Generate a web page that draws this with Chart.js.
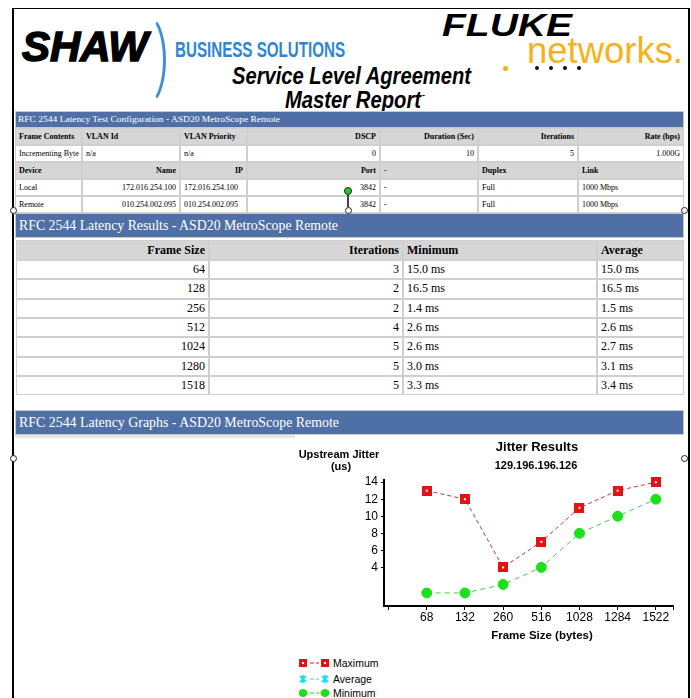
<!DOCTYPE html>
<html><head><meta charset="utf-8">
<script src="https://cdn.jsdelivr.net/npm/chart.js@4.4.1/dist/chart.umd.min.js"></script>
<style>
html,body{margin:0;padding:0;background:#fff;width:691px;height:698px;overflow:hidden;position:relative}
.a{position:absolute;white-space:nowrap}
.cell{position:absolute;box-sizing:border-box;border:1px solid #cfcfcf;white-space:nowrap;overflow:hidden;padding:0 3px;font-family:"Liberation Serif",serif;color:#000}
.h{position:absolute;width:7px;height:7px;border-radius:50%;border:1px solid #222;background:#fff;box-sizing:border-box}
#chartBox{position:absolute;left:295px;top:470px;width:396px;height:160px}
</style></head>
<body>
<div id="chartBox"><canvas id="c" width="396" height="160"></canvas></div>
<script>
// ---- chart data ----
const frameSizes = ['68','132','260','516','1028','1284','1522'];
const maxJitter = [13,12,4,7,11,13,14];
const avgJitter = [];
const minJitter = [1,1,2,4,8,10,12];
const yTickValues = [4,6,8,10,12,14];

// ---- table data ----
const resFrame = ['64','128','256','512','1024','1280','1518'];
const resIter = ['3','2','2','4','5','5','5'];
const resMin = ['15.0 ms','16.5 ms','1.4 ms','2.6 ms','2.6 ms','3.0 ms','3.3 ms'];
const resAvg = ['15.0 ms','16.5 ms','1.5 ms','2.6 ms','2.7 ms','3.1 ms','3.4 ms'];

function box(l,t,w,h,css){const d=document.createElement('div');d.style.position='absolute';d.style.left=l+'px';d.style.top=t+'px';d.style.width=w+'px';d.style.height=h+'px';Object.assign(d.style,css||{});document.body.appendChild(d);return d;}

function T(s,o){
  const d=document.createElement('div');d.className='a';
  const L=Math.round(o.size*(o.lh||1.3));
  const fam=o.family||'Liberation Sans';
  d.style.font=(o.style||'normal')+' '+(o.weight||'normal')+' '+o.size+'px "'+fam+'"';
  d.style.lineHeight=L+'px';d.style.color=o.color||'#000';
  d.style.top=(o.by-L/2-0.34*o.size)+'px';
  const sp=document.createElement('span');sp.textContent=s;sp.style.display='inline-block';
  if(o.stroke){sp.style.webkitTextStroke=o.stroke;}
  d.appendChild(sp);
  if(o.align==='center'){d.style.left=(o.x-300)+'px';d.style.width='600px';d.style.textAlign='center';sp.style.transformOrigin='50% 50%';}
  else{d.style.left=o.x+'px';sp.style.transformOrigin='0 50%';}
  document.body.appendChild(d);
  if(o.w){const w=sp.getBoundingClientRect().width;sp.style.transform='scaleX('+(o.w/w)+')';}
  return d;
}

// ---- page frame ----
box(12,8,677,1,{background:'#000'});
box(12,8,1.5,690,{background:'#000'});
box(688,8,1.5,690,{background:'#000'});

// ---- logos ----
T('SHAW',{x:22,by:61,size:42,weight:'bold',style:'italic',w:126,stroke:'1.5px #000'});
box(126,13,40,94,{boxSizing:'border-box',border:'3px solid transparent',borderRightColor:'#3d8fd8',borderRadius:'50%'});
T('BUSINESS SOLUTIONS',{x:175,by:57,size:22,weight:'bold',color:'#2f86d6',w:170});
T('FLUKE',{x:442,by:36,size:32,weight:'bold',style:'italic',w:130,lh:0.75});
T('networks.',{x:527,by:64,size:37,color:'#f5b21a',w:156,lh:0.75});
box(503,66,4.5,4.5,{borderRadius:'50%',background:'#f5b21a'});
[535,549,563,577].forEach(x=>box(x,66,4,4,{borderRadius:'50%',background:'#111'}));
T('Service Level Agreement',{x:232,by:84,size:23,weight:'bold',style:'italic',w:239});
T('Master Report',{x:285,by:108,size:23,weight:'bold',style:'italic',w:136});
T('-',{x:422,by:98,size:9,weight:'bold'});

// ---- grid helper ----
function grid(cols,rowsY,rows,font){
  rows.forEach((r,ri)=>{
    r.forEach((c,ci)=>{
      const w=cols[ci+1]-cols[ci];
      const [top,h]=rowsY[ri];
      const d=document.createElement('div');d.className='cell';
      d.style.left=cols[ci]+'px';d.style.top=top+'px';d.style.width=w+'px';d.style.height=h+'px';
      d.style.lineHeight=(h-2)+'px';d.style.fontSize=font+'px';
      d.style.textAlign=c[1]==='r'?'right':'left';
      if(c[2]){d.style.background='#d6d6d6';}
      if(c[3]){d.style.fontWeight='bold';}
      d.textContent=c[0];
      document.body.appendChild(d);
    });
  });
}

// ---- config table ----
box(15,111,669,17,{background:'#4f70a6',border:'1px solid #c8c8c8',boxSizing:'border-box'});
T('RFC 2544 Latency Test Configuration - ASD20 MetroScope Remote',{x:18,by:122,size:9,family:'Liberation Serif',color:'#fff',w:262});
const cfgCols=[15,82,180,247,380,478,578,684];
const cfgRows=[[128,17],[145,17],[162,17],[179,17],[196,17]];
grid(cfgCols,cfgRows,[
 [['Frame Contents','l',1,1],['VLAN Id','l',1,1],['VLAN Priority','l',1,1],['DSCP','r',1,1],['Duration (Sec)','r',1,1],['Iterations','r',1,1],['Rate (bps)','r',1,1]],
 [['Incrementing Byte','l'],['n/a','l'],['n/a','l'],['0','r'],['10','r'],['5','r'],['1.000G','r']],
 [['Device','l',1,1],['Name','r',1,1],['IP','r',1,1],['Port','r',1,1],['-','l',1,0],['Duplex','l',1,1],['Link','l',1,1]],
 [['Local','l'],['172.016.254.100','r'],['172.016.254.100','l'],['3842','r'],['-','l'],['Full','l'],['1000 Mbps','l']],
 [['Remote','l'],['010.254.002.095','r'],['010.254.002.095','l'],['3842','r'],['-','l'],['Full','l'],['1000 Mbps','l']]
],8);

// ---- results table ----
box(15,213,669,25,{background:'#4f70a6',border:'1px solid #c8c8c8',boxSizing:'border-box'});
T('RFC 2544 Latency Results - ASD20 MetroScope Remote',{x:19,by:230,size:15,family:'Liberation Serif',color:'#fff',w:319});
const resCols=[16,209,403,597,684];
const resRowsY=[[240,20]];
const resRows=[[['Frame Size','r',1,1],['Iterations','r',1,1],['Minimum','l',1,1],['Average','l',1,1]]];
resFrame.forEach((f,i)=>{
  resRowsY.push([260+i*19.33,19.33]);
  resRows.push([[f,'r'],[resIter[i],'r'],[resMin[i],'l'],[resAvg[i],'l']]);
});
grid(resCols,resRowsY,resRows,12);

// ---- graphs header ----
box(15,410,669,25,{background:'#4f70a6',border:'1px solid #c8c8c8',boxSizing:'border-box'});
T('RFC 2544 Latency Graphs - ASD20 MetroScope Remote',{x:19,by:427,size:15,family:'Liberation Serif',color:'#fff',w:320});
box(15,435,280,3,{background:'#e6e6e6'});

// ---- chart texts ----
T('Jitter Results',{x:537,by:450.5,size:13,weight:'bold',align:'center'});
T('129.196.196.126',{x:536,by:469,size:11,weight:'bold',align:'center'});
T('Upstream Jitter',{x:339,by:458,size:11,weight:'bold',align:'center'});
T('(us)',{x:341,by:470,size:11,weight:'bold',align:'center'});
T('Frame Size (bytes)',{x:542,by:639,size:11.5,weight:'bold',align:'center'});

// ---- selection handles ----
box(347.3,195,1.5,12,{background:'#444'});
[[13,210],[348,210],[684,210],[13,458],[684,458]].forEach(p=>{const d=document.createElement('div');d.className='h';d.style.left=(p[0]-3.5)+'px';d.style.top=(p[1]-3.5)+'px';document.body.appendChild(d);});
box(344,187,8,8,{borderRadius:'50%',background:'#22cc22',border:'1px solid #222',boxSizing:'border-box'});

// ---- markers ----
function redSquare(){const c=document.createElement('canvas');c.width=10;c.height=10;const g=c.getContext('2d');g.fillStyle='#e01414';g.fillRect(0,0,10,10);g.fillStyle='#fff';g.fillRect(4,4,2,2);return c;}
function drawIcon(kind){
  const c=document.createElement('canvas');c.width=32;c.height=12;const g=c.getContext('2d');
  const col={max:'#e01414',avg:'#22ddee',min:'#1de01d'}[kind];
  g.strokeStyle=col;g.lineWidth=1.2;g.beginPath();g.moveTo(11,6);g.lineTo(15,6);g.moveTo(17,6);g.lineTo(20,6);g.stroke();
  [0,22].forEach(x0=>{
    if(kind==='max'){g.fillStyle=col;g.fillRect(x0,2,8,8);g.fillStyle='#fff';g.fillRect(x0+3,5,2,2);}
    else if(kind==='min'){g.fillStyle=col;g.beginPath();g.ellipse(x0+4,6,4.5,4,0,0,Math.PI*2);g.fill();}
    else{g.strokeStyle=col;g.lineWidth=2;g.beginPath();g.moveTo(x0+1,3);g.lineTo(x0+7,9);g.moveTo(x0+7,3);g.lineTo(x0+1,9);g.moveTo(x0+4,2);g.lineTo(x0+4,10);g.stroke();}
  });
  return c;
}
[['Maximum','max',663],['Average','avg',679],['Minimum','min',693]].forEach(([lab,k,cy])=>{
  const c=drawIcon(k);c.style.position='absolute';c.style.left='299px';c.style.top=(cy-6)+'px';document.body.appendChild(c);
  T(lab,{x:333,by:cy+4,size:10.5});
});

// ---- chart ----
const toXY=arr=>arr.map((v,i)=>({x:i,y:v}));
new Chart(document.getElementById('c'),{
  type:'line',
  data:{datasets:[
    {label:'Maximum',data:toXY(maxJitter),borderColor:'#b83a3a',borderWidth:1,borderDash:[4,3],pointStyle:redSquare(),pointRadius:5,tension:0,clip:false},
    {label:'Average',data:toXY(avgJitter),borderColor:'#22ddee',borderWidth:1,borderDash:[4,3],pointStyle:'crossRot',pointRadius:4,tension:0,clip:false},
    {label:'Minimum',data:toXY(minJitter),borderColor:'#44cc44',borderWidth:1,borderDash:[5,4],pointStyle:'circle',pointRadius:5,pointBackgroundColor:'#1de01d',pointBorderColor:'#1de01d',tension:0,clip:false}
  ]},
  options:{
    responsive:false,animation:false,devicePixelRatio:1,
    layout:{padding:{left:0,top:8,right:18,bottom:0}},
    plugins:{legend:{display:false},tooltip:{enabled:false},title:{display:false}},
    scales:{
      x:{type:'linear',min:-1.12,max:6.45,
        afterBuildTicks:s=>{s.ticks=[-1].concat(frameSizes.map((f,i)=>i)).concat([6.45]).map(v=>({value:v}));},
        ticks:{autoSkip:false,maxRotation:0,padding:0,color:'#000',font:{family:'Liberation Sans',size:12},
          callback:v=>(Number.isInteger(v)&&v>=0&&v<frameSizes.length)?frameSizes[v]:''},
        grid:{drawOnChartArea:false,tickLength:4,color:'#000',lineWidth:1},
        border:{color:'#000',width:2},
        afterFit:s=>{s.height=24;}},
      y:{type:'linear',min:-0.53,max:14.23,
        afterBuildTicks:s=>{s.ticks=yTickValues.map(v=>({value:v}));},
        ticks:{padding:3,color:'#000',font:{family:'Liberation Sans',size:12}},
        grid:{drawOnChartArea:false,tickLength:3,color:'#000',lineWidth:1},
        border:{color:'#000',width:2},
        afterFit:s=>{s.width=89;}}
    }
  }
});
</script>
</body></html>
